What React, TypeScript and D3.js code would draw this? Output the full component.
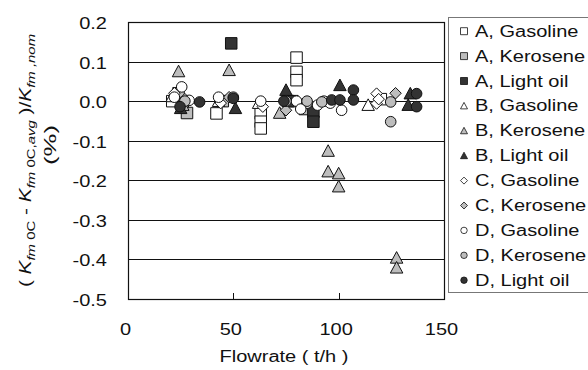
import React from 'react'
import * as d3 from 'd3'

// series values: [flowrate t/h, deviation %]
const aGasoline: [number, number][] = [[21, 0.0], [42, -0.031], [63, -0.031], [63, -0.052], [63, -0.069], [80, 0.11], [80, 0.074], [80, 0.053], [84, -0.01], [120, 0.005]]
const aKerosene: [number, number][] = [[24, 0.02], [26, -0.005], [28, -0.03], [45, 0.0], [76, 0.0], [84, -0.02]]
const aLightOil: [number, number][] = [[49, 0.146], [78, 0.0], [88, -0.027], [88, -0.052]]
const bGasoline: [number, number][] = [[21, 0.012], [43, 0.0], [62, -0.005], [114, -0.01]]
const bKerosene: [number, number][] = [[24, 0.075], [48, 0.078], [26, -0.01], [72, -0.03], [95, -0.126], [95, -0.178], [100, -0.183], [100, -0.216], [127.5, -0.396], [127.5, -0.421]]
const bLightOil: [number, number][] = [[25, -0.018], [51, -0.018], [75, 0.028], [100.6, 0.04], [134, 0.019], [133, -0.01]]
const cGasoline: [number, number][] = [[22, 0.02], [44, -0.005], [64, -0.014], [118, 0.019], [118, -0.006], [119, 0.005]]
const cKerosene: [number, number][] = [[27, 0.005], [48, 0.01], [75, -0.023], [127, 0.02]]
const dGasoline: [number, number][] = [[25.5, 0.036], [22, 0.01], [29, 0.002], [43, 0.01], [63, 0.0], [80, 0.0], [85, -0.005], [90, -0.01], [93, 0.0], [96, -0.005], [101.4, -0.023], [82, -0.02]]
const dKerosene: [number, number][] = [[27, 0.0], [50, 0.01], [75, 0.0], [85, 0.0], [92, -0.002], [124.7, -0.002], [124.7, -0.052]]
const dLightOil: [number, number][] = [[24.7, -0.014], [34, -0.002], [50, 0.007], [74, 0.0], [96.7, 0.003], [100.6, 0.003], [107, 0.028], [107, 0.003], [137, 0.019], [137, -0.014]]

const xTicks = [0, 50, 100, 150]
const yTicks = [0.2, 0.1, 0.0, -0.1, -0.2, -0.3, -0.4, -0.5]

const WHITE = '#ffffff', GRAY = '#bdbdbd', DARK = '#333333'

const series = [
  {name: 'A, Gasoline', shape: 'square', fill: WHITE, data: aGasoline},
  {name: 'A, Kerosene', shape: 'square', fill: GRAY, data: aKerosene},
  {name: 'A, Light oil', shape: 'square', fill: DARK, data: aLightOil},
  {name: 'B, Gasoline', shape: 'triangle', fill: WHITE, data: bGasoline},
  {name: 'B, Kerosene', shape: 'triangle', fill: GRAY, data: bKerosene},
  {name: 'B, Light oil', shape: 'triangle', fill: DARK, data: bLightOil},
  {name: 'C, Gasoline', shape: 'diamond', fill: WHITE, data: cGasoline},
  {name: 'C, Kerosene', shape: 'diamond', fill: GRAY, data: cKerosene},
  {name: 'D, Gasoline', shape: 'circle', fill: WHITE, data: dGasoline},
  {name: 'D, Kerosene', shape: 'circle', fill: GRAY, data: dKerosene},
  {name: 'D, Light oil', shape: 'circle', fill: DARK, data: dLightOil},
]

// marker path centred on 0,0, s = overall width
function marker(shape: string, s: number) {
  const h = s / 2
  if (shape === 'square') return `M${-h},${-h}h${s}v${s}h${-s}Z`
  if (shape === 'triangle') return `M0,${-h}L${h},${h * 0.85}L${-h},${h * 0.85}Z`
  if (shape === 'diamond') return `M0,${-h}L${h},0L0,${h}L${-h},0Z`
  return d3.symbol(d3.symbolCircle, Math.PI * h * h * 0.85)() as string
}

const margin = {top: 22, left: 128, right: 144, bottom: 71}
const W = 588, H = 370
const SX = 1.25 // the reference text is drawn wide

// text stretched along its baseline
function T({x, y, anchor = 'start', children, size = 16, rot = 0, sx = SX}: any) {
  return (
    <g transform={`translate(${x},${y}) rotate(${rot}) scale(${sx},1)`}>
      <text fontSize={size} textAnchor={anchor} fill="#111">{children}</text>
    </g>
  )
}

export default function App() {
  const x = d3.scaleLinear().domain([0, 150]).range([margin.left, W - margin.right])
  const y = d3.scaleLinear().domain([-0.5, 0.2]).range([H - margin.bottom, margin.top])
  const font = 'Arial, "Liberation Sans", sans-serif'
  const sub = {fontSize: 11.5, fontStyle: 'italic'} as const

  return (
    <svg width={W} height={H} style={{position: 'absolute', left: 0, top: 0, background: '#fff'}} fontFamily={font}>
      {/* grid */}
      {yTicks.map(t => (
        <line key={'g' + t} x1={x(0)} x2={x(150)} y1={Math.round(y(t)) + 0.5} y2={Math.round(y(t)) + 0.5} stroke="#111" strokeWidth={1} />
      ))}
      <rect x={x(0) + 0.5} y={Math.round(y(0.2)) + 0.5} width={x(150) - x(0)} height={Math.round(y(-0.5)) - Math.round(y(0.2))} fill="none" stroke="#111" strokeWidth={1.2} />
      {xTicks.slice(1, 3).map(t => (
        <line key={'xt' + t} x1={Math.round(x(t)) + 0.5} x2={Math.round(x(t)) + 0.5} y1={y(-0.5)} y2={y(-0.5) - 6} stroke="#111" />
      ))}
      {yTicks.map(t => (
        <T key={'yl' + t} x={107} y={y(t) + 7} anchor="end">{t.toFixed(1)}</T>
      ))}
      {xTicks.map(t => (
        <T key={'xl' + t} x={x(t) - 2.5} y={335} anchor="middle">{t}</T>
      ))}
      <T x={284} y={362} anchor="middle">Flowrate ( t/h )</T>

      {/* y title */}
      <T x={31} y={160.5} rot={-90} anchor="middle" sx={1.3}>
        ( <tspan fontStyle="italic">K</tspan><tspan {...sub} dy={4}>fm </tspan><tspan fontSize={11.5}>0C</tspan>
        <tspan dy={-4}> - </tspan><tspan fontStyle="italic">K</tspan><tspan {...sub} dy={4}>fm </tspan><tspan fontSize={11.5}>0C,</tspan><tspan {...sub}>avg</tspan>
        <tspan dy={-4}>  )/</tspan><tspan fontStyle="italic">K</tspan><tspan {...sub} dy={4}>fm ,nom</tspan>
      </T>
      <g transform="translate(56,145) rotate(-90)">
        <text fontSize={16} textAnchor="middle" fill="#111" textLength={40} lengthAdjust="spacingAndGlyphs">(%)</text>
      </g>

      {/* points */}
      {series.map(s => (
        <g key={s.name}>
          {s.data.map((d, i) => (
            <path key={i} d={marker(s.shape, s.shape === 'triangle' ? 12.5 : 11.5)} transform={`translate(${x(d[0])},${y(d[1])})`} fill={s.fill} stroke="#111" strokeWidth={1} />
          ))}
        </g>
      ))}

      {/* legend */}
      <rect x={448.5} y={17.5} width={150} height={275} fill="#fff" stroke="#777" strokeWidth={1} />
      {series.map((s, i) => (
        <g key={'lg' + s.name} transform={`translate(0,${30.7 + i * 24.9})`}>
          <path d={marker(s.shape, 7)} transform="translate(464,0.5)" fill={s.fill} stroke="#111" strokeWidth={0.8} />
          <T x={475} y={6}>{s.name}</T>
        </g>
      ))}
    </svg>
  )
}
